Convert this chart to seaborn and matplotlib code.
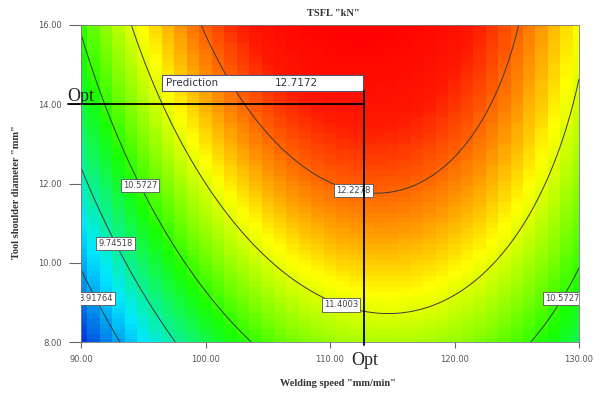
import numpy as np
import matplotlib
matplotlib.use("Agg")
import matplotlib.pyplot as plt
from matplotlib.patches import Rectangle
from matplotlib.colors import LinearSegmentedColormap
import seaborn as sns

# ---- data ----
speed_range = [90.0, 130.0]          # Welding speed "mm/min"
diam_range = [8.0, 16.0]             # Tool shoulder diameter "mm"
# quadratic response-surface coefficients in coded units
# TSFL = b0 + bA*A + bB*B + bAB*A*B + bAA*A^2 + bBB*B^2
coef_names = ["b0", "bA", "bB", "bAB", "bAA", "bBB"]
coef_vals = [12.221, 0.694, 0.958, -0.238, -1.90, -0.206]
levels = [8.91764, 9.74518, 10.5727, 11.4003, 12.2278]
label_pos = [(91.7, 9.19), (93.3, 10.57), (95.15, 12.01),
             (110.95, 9.01), (112.0, 11.99), (128.15, 9.19)]
opt_speed = 112.7
opt_diam = 14.0
prediction = 12.7172
xticks = [90, 100, 110, 120, 130]
yticks = [8, 10, 12, 14, 16]
# colour scale anchors (value, colour)
cmap_values = [8.2, 9.3, 10.45, 11.55, 12.05, 12.6, 13.0]
cmap_colors = ["#0030d8", "#00e8ff", "#18ff00", "#ffff00", "#ff8c00",
               "#ff1800", "#ff0000"]

coef = dict(zip(coef_names, coef_vals))


def tsfl(s, d):
    a = (s - 110.0) / 20.0
    b = (d - 12.0) / 4.0
    return (coef["b0"] + coef["bA"] * a + coef["bB"] * b + coef["bAB"] * a * b
            + coef["bAA"] * a ** 2 + coef["bBB"] * b ** 2)


sns.set_style("white")
plt.rcParams["font.family"] = ["DejaVu Sans"]

vmin, vmax = cmap_values[0], cmap_values[-1]
cmap = LinearSegmentedColormap.from_list(
    "de", [((v - vmin) / (vmax - vmin), c) for v, c in zip(cmap_values, cmap_colors)])

fig = plt.figure(figsize=(6.01, 3.95), dpi=100)
ax = fig.add_axes([81 / 601, 1 - 342 / 395, 498 / 601, 317 / 395])

# coarse colour grid
sc = np.linspace(speed_range[0], speed_range[1], 41)
dc = np.linspace(diam_range[0], diam_range[1], 61)
SC, DC = np.meshgrid(sc, dc)
ax.pcolormesh(SC, DC, tsfl(SC, DC), cmap=cmap, vmin=vmin, vmax=vmax,
              shading="nearest", rasterized=True)

# contour lines
sf = np.linspace(speed_range[0], speed_range[1], 300)
df = np.linspace(diam_range[0], diam_range[1], 300)
SF, DF = np.meshgrid(sf, df)
cs = ax.contour(SF, DF, tsfl(SF, DF), levels=levels, colors="#3a3a3a",
                linewidths=0.7)
texts = ax.clabel(cs, fmt="%g", manual=label_pos, inline=False, fontsize=6,
                  colors="#444444")
for t in texts:
    t.set_rotation(0)
    t.set_bbox(dict(boxstyle="square,pad=0.25", fc="white", ec="#555555", lw=0.6))

ax.set_xlim(*speed_range)
ax.set_ylim(*diam_range)

# prediction box
ax.add_patch(Rectangle((96.5, 14.33), opt_speed - 0.05 - 96.5, 0.41,
                       fc="white", ec="#555577", lw=0.8, zorder=5))
ax.text(96.85, 14.535, "Prediction", fontsize=7.5, color="#333344",
        va="center", ha="left", zorder=6)
ax.text(109.0, 14.535, f"{prediction:.4f}", fontsize=7.5, color="#333344",
        va="center", ha="right", zorder=6)

# crosshair
ax.plot([88.95, opt_speed], [opt_diam, opt_diam], color="black", lw=1.3,
        clip_on=False, zorder=6)
ax.plot([opt_speed, opt_speed], [14.33, 7.92], color="black", lw=1.3,
        clip_on=False, zorder=6)
ax.text(88.9, 14.08, "Opt", fontsize=13, family="Liberation Serif",
        ha="left", va="baseline", zorder=7)
ax.text(111.7, 7.42, "Opt", fontsize=13, family="Liberation Serif",
        ha="left", va="baseline", zorder=7)

# axes styling
ax.set_xticks(xticks)
ax.set_yticks(yticks)
ax.set_xticklabels([f"{v:.2f}" for v in xticks])
ax.set_yticklabels([f"{v:.2f}" for v in yticks])
ax.tick_params(axis="y", direction="out", length=9, width=0.8, pad=5,
               labelsize=6, colors="#666666", labelcolor="#555555", left=True)
ax.tick_params(axis="x", direction="out", length=4.5, width=0.8, pad=5,
               labelsize=6, colors="#666666", labelcolor="#555555", bottom=True)
for sp in ax.spines.values():
    sp.set_color("#777777")
    sp.set_linewidth(0.6)

fig.text(333 / 601, 1 - 13 / 395, 'TSFL "kN"', ha="center", va="center",
         fontsize=7.5, fontweight="bold", family="Liberation Serif",
         color="#333333")
fig.text(338 / 601, 1 - 383 / 395, 'Welding speed "mm/min"', ha="center",
         va="center", fontsize=7.5, fontweight="bold", family="Liberation Serif",
         color="#333333")
fig.text(17 / 601, 1 - 192 / 395, 'Tool shoulder diameter "mm"', ha="center",
         va="center", rotation=90, fontsize=7.5, fontweight="bold",
         family="Liberation Serif", color="#333333")

fig.savefig("out.png", dpi=100)
